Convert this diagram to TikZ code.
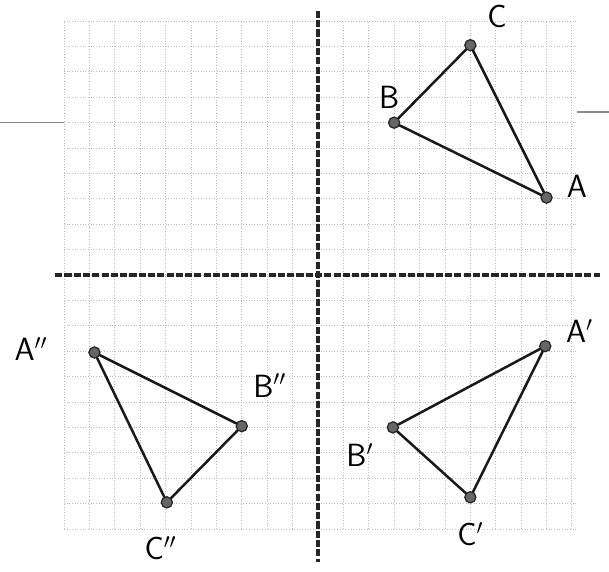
\documentclass[tikz,border=0pt]{standalone}
\tikzset{
  punto/.style={circle, fill=black!60, draw=black!85, line width=0.7pt, inner sep=0pt, minimum size=2.2mm},
  lado/.style={line width=1.4pt, line cap=round, line join=round, black!90},
  letra/.style={font=\sffamily\fontsize{18}{22}\selectfont},
  eje/.style={line width=2.4pt, dash pattern=on 4pt off 1.2pt, black!85},
}
\begin{document}
\begin{tikzpicture}[x=0.5cm, y=0.5cm]
  \useasboundingbox (-12.52,-11.69) rectangle (11.46,10.83);
  % la cuadricula
  \draw[red!25!black!28, line width=0.5pt, densely dotted, step={(1,1)}] (-10,-10) grid (10.2,10);
  % las rayas de la hoja
  \draw[black!45, line width=0.6pt] (-12.52,6.02) -- (-10,6.02);
  \draw[black!45, line width=0.6pt] (10.2,6.42) -- (11.46,6.42);
  % los ejes
  \draw[eje] (-10.35,0) -- (11.1,0);
  \draw[eje, line width=1.8pt] (0,10.4) -- (0,-11.3);
  % el triangulo de arriba
  \node[punto] (A) at (9,3.05) {};
  \node[punto] (B) at (3,6) {};
  \node[punto] (C) at (6,9.05) {};
  \draw[lado] (A) -- (B) -- (C) -- (A);
  \node[letra] (lA) at (10.2,3.5) {A};
  \node[letra] (lB) at (2.8,7.0) {B};
  \node[letra] (lC) at (7.05,10.2) {C};
  % el triangulo reflejado
  \node[punto] (A1) at (8.95,-2.8) {};
  \node[punto] (B1) at (2.95,-6) {};
  \node[punto] (C1) at (6,-8.75) {};
  \draw[lado] (A1) -- (B1) -- (C1) -- (A1);
  \node[letra] (lA1) at (10.3,-2.2) {A$'$};
  \node[letra] (lB1) at (1.65,-7.1) {B$'$};
  \node[letra] (lC1) at (6,-10.2) {C$'$};
  % el triangulo girado
  \node[punto] (A2) at (-8.8,-3.05) {};
  \node[punto] (B2) at (-3,-5.95) {};
  \node[punto] (C2) at (-5.95,-8.95) {};
  \draw[lado] (A2) -- (B2) -- (C2) -- (A2);
  \node[letra] (lA2) at (-11.3,-2.9) {A$''$};
  \node[letra] (lB2) at (-1.9,-4.35) {B$''$};
  \node[letra] (lC2) at (-6.2,-10.75) {C$''$};
\end{tikzpicture}
\end{document}
